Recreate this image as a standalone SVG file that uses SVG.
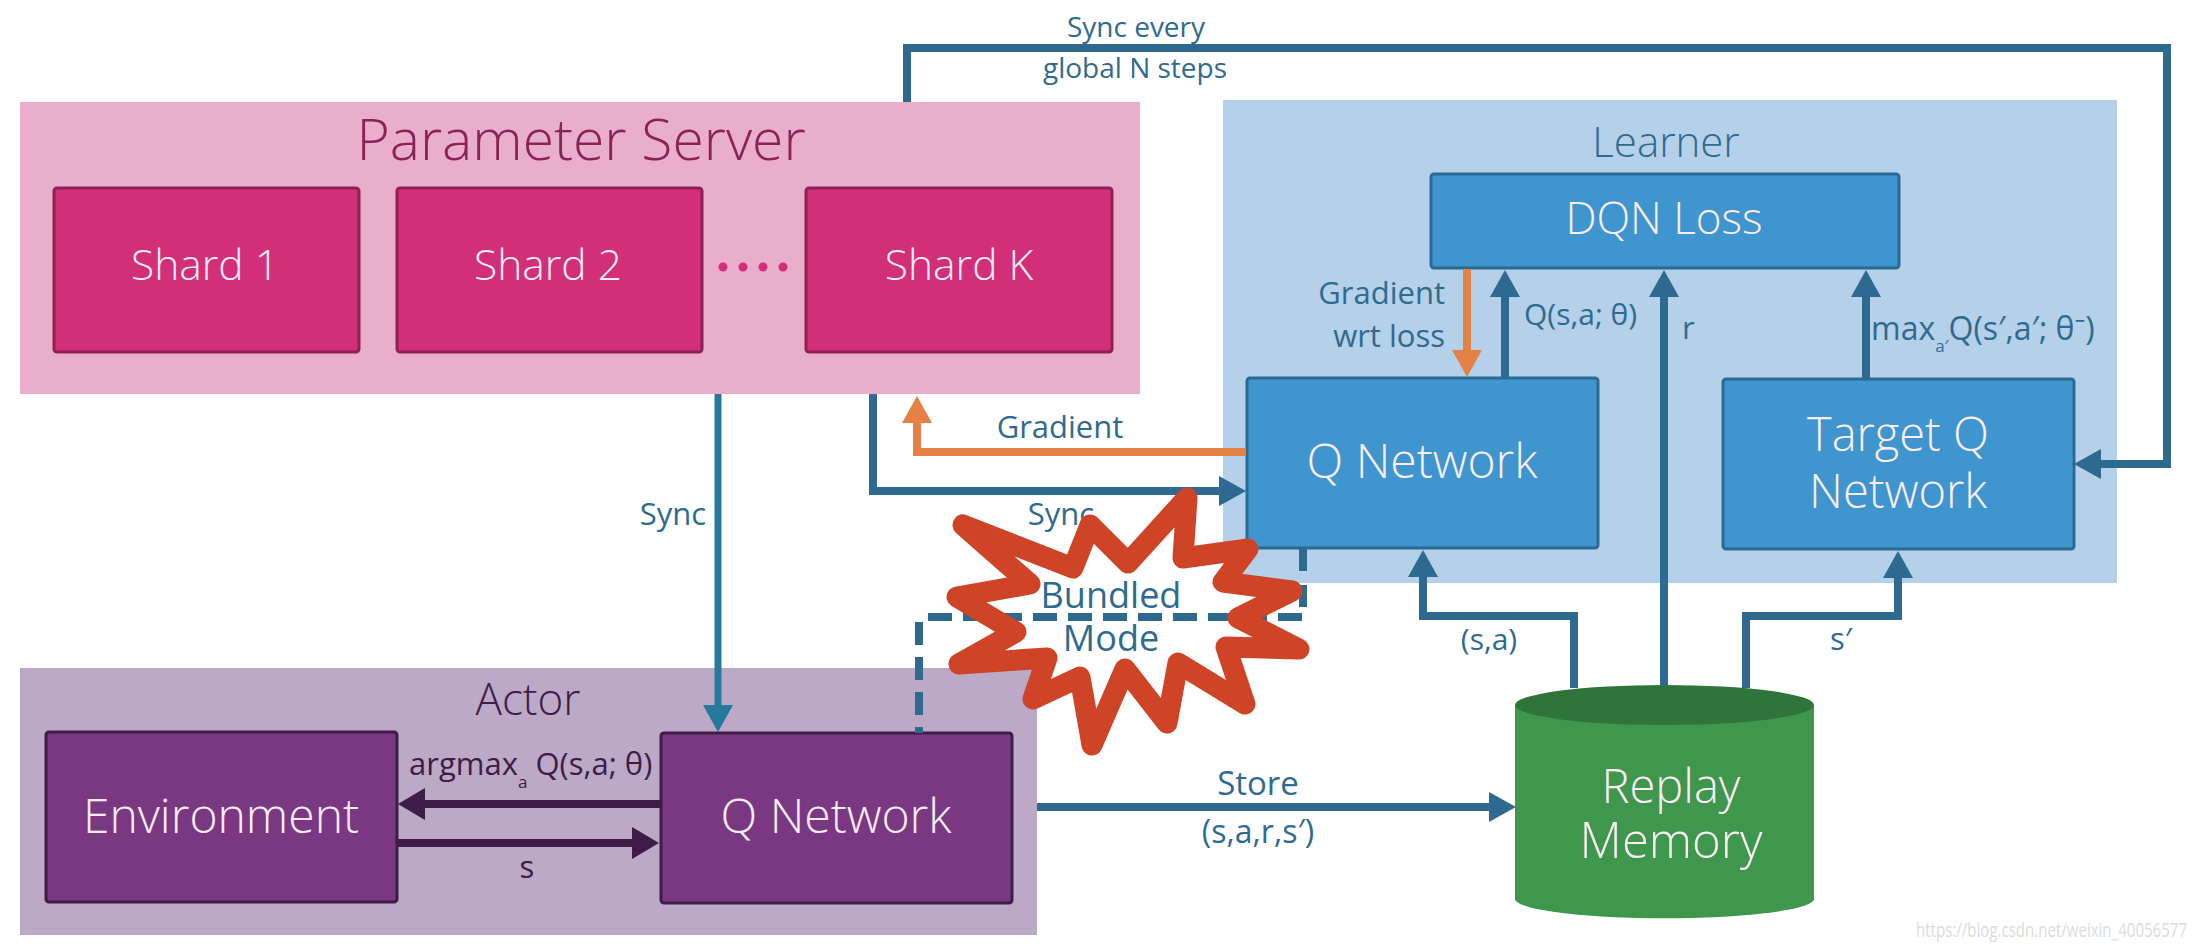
<svg xmlns="http://www.w3.org/2000/svg" width="2196" height="950" viewBox="0 0 2196 950">
<style>
text{font-family:"Open Sans","Noto Sans","Liberation Sans",sans-serif;text-anchor:middle;font-weight:300}
.lb{font-size:31px;fill:#2f6b8f;font-weight:400}
.ps{fill:#d22f78;stroke:#8d2155;stroke-width:3}
.le{fill:#3f95cd;stroke:#2c6a94;stroke-width:3}
.ac{fill:#7a3882;stroke:#3e1c47;stroke-width:3}
.w{fill:#fbeef5;font-size:42.500px}
.b{font-size:48px}
.ln{fill:none;stroke:#2e6a90;stroke-width:8}
</style>
<defs>
<marker id="ab" markerUnits="userSpaceOnUse" markerWidth="28" markerHeight="30" refX="2" refY="15" orient="auto"><path d="M0 0L27 15L0 30Z" fill="#2e6a90"/></marker>
<marker id="aS" markerUnits="userSpaceOnUse" markerWidth="28" markerHeight="30" refX="2" refY="15" orient="auto"><path d="M0 0L27 15L0 30Z" fill="#26789c"/></marker>
<marker id="ao" markerUnits="userSpaceOnUse" markerWidth="28" markerHeight="30" refX="2" refY="15" orient="auto"><path d="M0 0L27 15L0 30Z" fill="#e58145"/></marker>
<marker id="ad" markerUnits="userSpaceOnUse" markerWidth="28" markerHeight="32" refX="2" refY="16" orient="auto"><path d="M0 0L27 16L0 32Z" fill="#3e1c47"/></marker>
</defs>
<rect width="2196" height="950" fill="#fff"/>
<g id="parameter-server">
<rect x="20" y="102" width="1120" height="292" fill="#e9aecb"/>
<text x="581" y="160" font-size="57" fill="#8b2257">Parameter Server</text>
</g>
<g id="shard-1"><rect class="ps" x="54" y="188" width="305" height="164" rx="3"/><text class="w" x="205" y="280">Shard 1</text></g>
<g id="shard-2"><rect class="ps" x="397" y="188" width="305" height="164" rx="3"/><text class="w" x="548" y="280">Shard 2</text></g>
<g id="shard-k"><rect class="ps" x="806" y="188" width="306" height="164" rx="3"/><text class="w" x="959" y="280">Shard K</text></g>
<g id="dots" fill="#d22f78"><circle cx="723" cy="267" r="4.500"/><circle cx="743" cy="267" r="4.500"/><circle cx="763" cy="267" r="4.500"/><circle cx="783" cy="267" r="4.500"/></g>
<g id="learner">
<rect x="1223" y="100" width="894" height="483" fill="#b5d0e9"/>
<text x="1666" y="157" font-size="42" fill="#2f6b8f">Learner</text>
</g>
<g id="dqn-loss"><rect class="le" x="1431" y="174" width="468" height="94" rx="3"/><text class="w" x="1664" y="234" style="font-size:44px">DQN Loss</text></g>
<g id="learner-q-network"><rect class="le" x="1247" y="378" width="351" height="170" rx="3"/><text class="w b" x="1422" y="478">Q Network</text></g>
<g id="target-q-network"><rect class="le" x="1723" y="379" width="351" height="170" rx="3"/><text class="w" x="1898" y="451" style="font-size:47px">Target Q</text><text class="w" x="1898" y="508" style="font-size:47px">Network</text></g>
<g id="actor">
<rect x="20" y="668" width="1017" height="267" fill="#bba9c7"/>
<text x="528" y="715" font-size="44" fill="#3e1c47">Actor</text>
</g>
<g id="environment"><rect class="ac" x="46" y="732" width="351" height="170" rx="3"/><text class="w b" x="221" y="833">Environment</text></g>
<g id="actor-q-network"><rect class="ac" x="661" y="733" width="351" height="170" rx="3"/><text class="w b" x="836" y="833">Q Network</text></g>
<g id="replay-memory">
<path d="M1515 705V900A150 20 0 0 0 1814 900V705Z" fill="#3f964d"/>
<ellipse cx="1664.500" cy="705" rx="149.500" ry="20" fill="#2f7439"/>
<text class="w" x="1671" y="803" style="font-size:47px">Replay</text>
<text class="w" x="1671" y="858" style="font-size:49px">Memory</text>
</g>
<g id="connectors">
<path class="ln" d="M907 102V48H2167V464H2099" marker-end="url(#ab)"/>
<path class="ln" d="M873 394V491H1221" marker-end="url(#ab)"/>
<path class="ln" d="M718 394V707" style="stroke:#26789c;stroke-width:7" marker-end="url(#aS)"/>
<path class="ln" d="M1246 452H917V421" style="stroke:#e58145" marker-end="url(#ao)"/>
<path class="ln" d="M1467 269V352" style="stroke:#e58145" marker-end="url(#ao)"/>
<path class="ln" d="M1505 377V295" marker-end="url(#ab)"/>
<path class="ln" d="M1664 686V295" marker-end="url(#ab)"/>
<path class="ln" d="M1866 378V295" marker-end="url(#ab)"/>
<path class="ln" d="M1574 688V616H1423V575" marker-end="url(#ab)"/>
<path class="ln" d="M1746 688V616H1898V576" marker-end="url(#ab)"/>
<path class="ln" d="M1037 807H1491" marker-end="url(#ab)"/>
<path class="ln" d="M660 804H423" style="stroke:#3e1c47" marker-end="url(#ad)"/>
<path class="ln" d="M397 843H634" style="stroke:#3e1c47" marker-end="url(#ad)"/>
<path class="ln" d="M1303 549V607" stroke-dasharray="22 14"/>
<path class="ln" d="M1302 617H926" stroke-dasharray="24 11"/>
<path class="ln" d="M919 622V733" stroke-dasharray="23 12"/>
</g>
<g id="labels">
<text class="lb" x="1136" y="37" style="font-size:28px">Sync every</text>
<text class="lb" x="1135" y="78" style="font-size:28px">global N steps</text>
<text class="lb" x="1060" y="438">Gradient</text>
<text class="lb" x="1445" y="304" style="text-anchor:end">Gradient</text>
<text class="lb" x="1445" y="347" style="text-anchor:end">wrt loss</text>
<text class="lb" x="1524" y="325" style="text-anchor:start;font-size:30px">Q(s,a; θ)</text>
<text class="lb" x="1682" y="339" style="text-anchor:start">r</text>
<text class="lb" x="1871" y="340" style="text-anchor:start;font-size:32px">max<tspan font-size="17" dy="12">a′</tspan><tspan dy="-12">Q(s′,a′; θ⁻)</tspan></text>
<text class="lb" x="673" y="525">Sync</text>
<text class="lb" x="1061" y="525">Sync</text>
<text class="lb" x="1489" y="650" style="font-size:30px">(s,a)</text>
<text class="lb" x="1841" y="650">s′</text>
<text class="lb" x="1258" y="795" style="font-size:33px">Store</text>
<text class="lb" x="1258" y="843" style="font-size:32px">(s,a,r,s′)</text>
<text class="lb" x="409" y="775" style="text-anchor:start;fill:#3e1c47">argmax<tspan font-size="17" dy="13">a</tspan><tspan dy="-13"> Q(s,a; θ)</tspan></text>
<text class="lb" x="527" y="878" style="fill:#3e1c47">s</text>
</g>
<g id="bundled-mode">
<path d="M963 525L1073 568L1090 525L1128 563L1187 498L1183 558L1248 549L1223 582L1292 591L1238 618L1299 649L1226 647L1245 704L1178 663L1167 723L1125 669L1092 745L1080 677L1033 699L1047 658L959 664L1016 632L957 597L1030 584Z" fill="none" stroke="#cf4327" stroke-width="21" stroke-linejoin="round"/>
<text x="1111" y="608" style="font-size:36px;fill:#2f6b8f;font-weight:400">Bundled</text>
<text x="1111" y="651" style="font-size:36px;fill:#2f6b8f;font-weight:400">Mode</text>
</g>
<text id="watermark" x="1916" y="937" textLength="271" lengthAdjust="spacingAndGlyphs" style="text-anchor:start;font-size:20px;fill:#dcdcdc;font-weight:400">https://blog.csdn.net/weixin_40056577</text>
</svg>
